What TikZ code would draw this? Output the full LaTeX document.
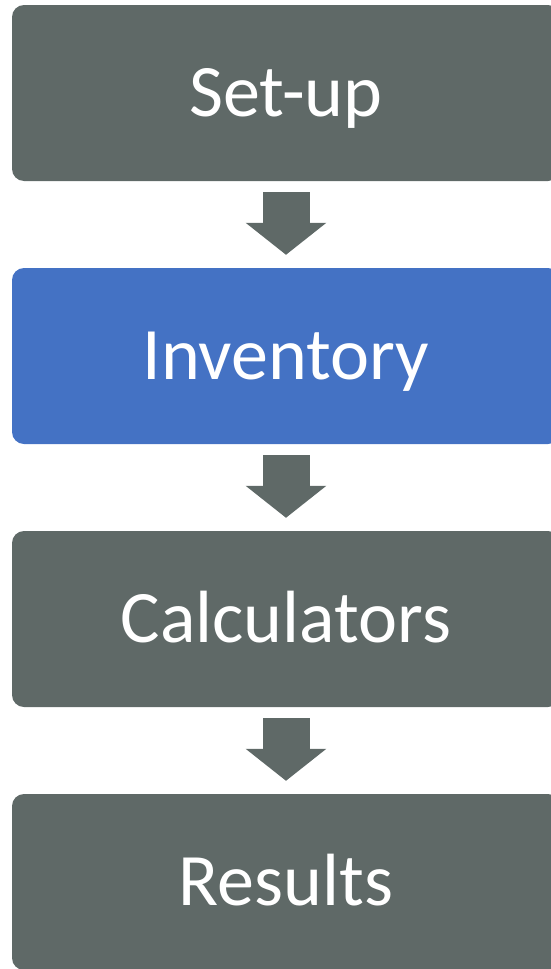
\documentclass[tikz,border=0pt]{standalone}
\usepackage{fontspec}
\setsansfont{Carlito}
\usetikzlibrary{arrows.meta, positioning}

\begin{document}
\begin{tikzpicture}[
    font=\sffamily,
    node distance=263pt,     % Centre-to-centre spacing of the stages
    on grid,
    stage/.style={
        rounded corners=12pt,
        text=white,
        align=center,
        font=\sffamily\fontsize{74}{80}\selectfont,
        text height=47pt,
        text depth=0pt,
        minimum width=548pt,
        minimum height=176pt
    },
    flow/.style={
        colorStage,
        line width=47pt,
        -{Triangle[width=79pt, length=32pt]}
    }
]

%--- Define colors for stages ---
\definecolor{colorStage}{RGB}{95,105,103}     % Slate gray
\definecolor{colorActive}{RGB}{68,114,196}    % Blue

\useasboundingbox (0,0) rectangle (551pt,-969pt);

%------------------------------------
% STAGES
%------------------------------------

% 1) Set-up
\node[stage, fill=colorStage] (setup) at (286pt,-93pt) {Set-up};

% 2) Inventory (current step)
\node[stage, fill=colorActive, below=of setup] (inventory) {Inventory};

% 3) Calculators
\node[stage, fill=colorStage, below=of inventory] (calculators) {Calculators};

% 4) Results
\node[stage, fill=colorStage, below=of calculators] (results) {Results};

%------------------
% EDGES (ARROWS)
%------------------
\draw[flow] ([yshift=-11pt]setup.south) -- ([yshift=13pt]inventory.north);
\draw[flow] ([yshift=-11pt]inventory.south) -- ([yshift=13pt]calculators.north);
\draw[flow] ([yshift=-11pt]calculators.south) -- ([yshift=13pt]results.north);

\end{tikzpicture}
\end{document}
